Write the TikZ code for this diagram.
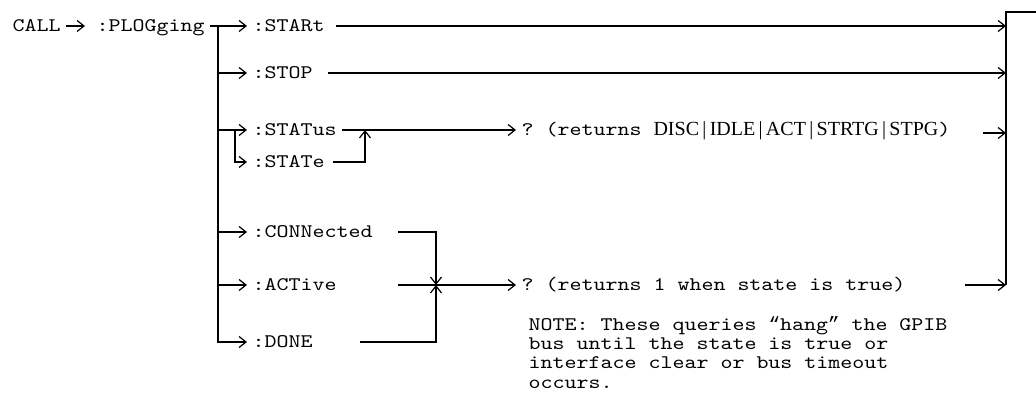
\documentclass[tikz,border=0pt]{standalone}
\usepackage{fontspec}
\setmainfont{Liberation Serif}
\setmonofont[FakeStretch=1.19]{Latin Modern Mono}
\newfontfamily\quotefont{Liberation Mono}
\usetikzlibrary{arrows.meta}
\begin{document}
\begin{tikzpicture}[
x=0.5pt,y=-0.5pt,
every node/.style={font=\ttfamily\fontsize{9.6}{12}\selectfont,inner sep=0pt},
cmd/.style={anchor=west,inner xsep=2.5pt,text height=7.5pt,text depth=2pt},
note/.style={anchor=north west,align=left,font=\ttfamily\fontsize{9.6}{9.6}\selectfont},
every path/.style={line width=0.6pt},
>={Straight Barb[length=3.5pt,width=5.5pt]}
]
\useasboundingbox (0,0) rectangle (1036,406);
\node[cmd] (call) at (7,26){CALL};
\node[cmd] (plog) at (91,26){:PLOGging};
\node[cmd] (start) at (247,26){:STARt};
\node[cmd] (stop) at (247,73){:STOP};
\node[cmd] (status) at (247,130){:STATus};
\node[cmd] (state) at (247,162){:STATe};
\node[cmd] (conn) at (247,232){:CONNected};
\node[cmd] (active) at (247,285){:ACTive};
\node[cmd] (done) at (247,342){:DONE};
\node[cmd] (ret1) at (516,130){? (returns {\rmfamily\fontsize{10}{12}\selectfont DISC\,|\,IDLE\,|\,ACT\,|\,STRTG\,|\,STPG})};
\node[cmd] (ret2) at (516,285){? (returns 1 when state is true)};
\node[note] (notes) at (528,316){NOTE: These queries {\quotefont“}hang{\quotefont”} the GPIB\\bus until the state is true or\\interface clear or bus timeout\\occurs.};
\coordinate (trunk) at (218,26);
\coordinate (sub) at (235,130);
\coordinate (merge) at (365,130);
\coordinate (cnOut) at (398,232);
\coordinate (acOut) at (398,285);
\coordinate (dnOut) at (360,342);
\coordinate (join) at (436,285);
\coordinate (r1Out) at (983,133);
\coordinate (r2Out) at (965,285);
\coordinate (bartop) at (1006,12);
\coordinate (barbot) at (1006,285);
\coordinate (exit) at (1036,12);
\draw[->,shorten >=3pt] (call) -- (plog);
\draw[->] (plog) -- (trunk) |- (done);
\draw[->] (trunk) -- (start);
\draw[->] (trunk |- stop) -- (stop);
\draw[->] (trunk |- status) -- (status);
\draw[->] (sub) |- (state);
\draw[->] (trunk |- conn) -- (conn);
\draw[->] (trunk |- active) -- (active);
\draw[->,shorten <=3pt] (start) -- (start -| bartop);
\draw[->,shorten <=5pt] (stop) -- (stop -| bartop);
\draw[->] (status) -- (ret1);
\draw[->,shorten <=1.5pt] (state) -| (merge);
\draw[->] (cnOut) -| (join);
\draw[->] (dnOut) -| (join);
\draw[->] (acOut) -- (ret2);
\draw[->] (r1Out) -- (r1Out -| bartop);
\draw[->] (r2Out) -- (r2Out -| bartop);
\draw (barbot) -- (bartop) -- (exit);
\end{tikzpicture}
\end{document}
